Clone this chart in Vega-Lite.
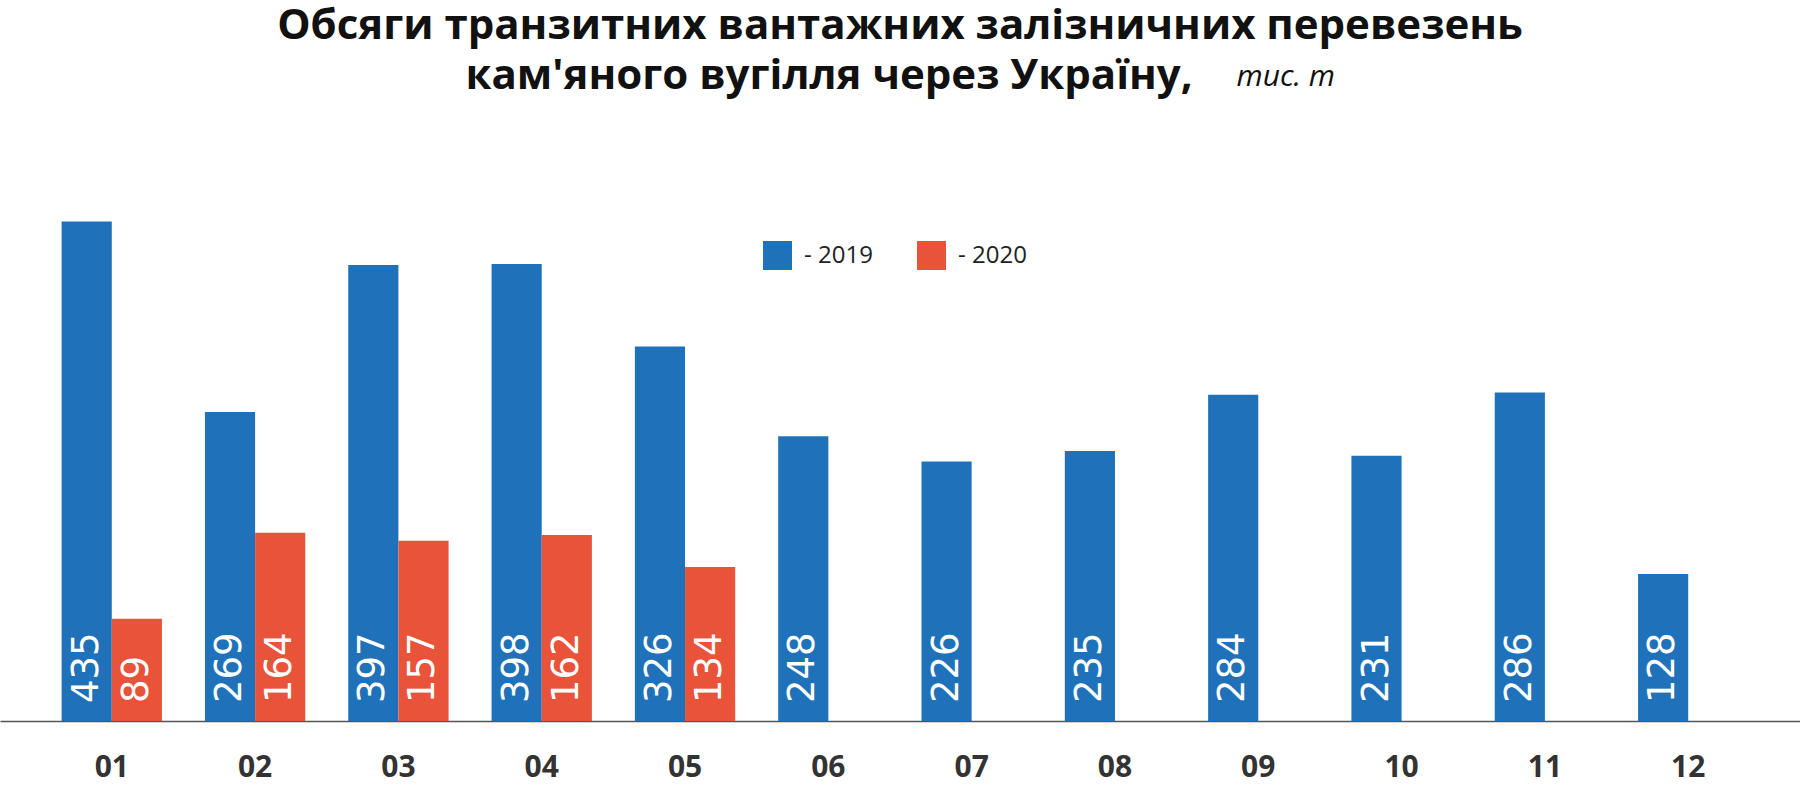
{
  "$schema": "https://vega.github.io/schema/vega-lite/v6.json",
  "width": 1800,
  "height": 611,
  "autosize": {"type": "none"},
  "padding": {"left": 0, "right": 0, "top": 110, "bottom": 64},
  "background": "white",
  "title": {
    "text": ["Обсяги транзитних вантажних залізничних перевезень", "кам'яного вугілля через Україну,\u00a0\u00a0\u00a0\u00a0\u00a0\u00a0\u00a0\u00a0\u00a0\u00a0\u00a0\u00a0\u00a0\u200b"],
    "subtitle": "\u200b\u00a0\u00a0\u00a0\u00a0\u00a0\u00a0\u00a0\u00a0\u00a0\u00a0\u00a0\u00a0\u00a0\u00a0\u00a0\u00a0\u00a0\u00a0\u00a0\u00a0\u00a0\u00a0\u00a0\u00a0\u00a0\u00a0\u00a0\u00a0\u00a0\u00a0\u00a0\u00a0\u00a0\u00a0\u00a0\u00a0\u00a0\u00a0\u00a0\u00a0\u00a0\u00a0\u00a0\u00a0\u00a0\u00a0\u00a0\u00a0\u00a0\u00a0\u00a0\u00a0\u00a0\u00a0\u00a0\u00a0\u00a0\u00a0\u00a0\u00a0\u00a0\u00a0\u00a0\u00a0\u00a0\u00a0\u00a0\u00a0\u00a0\u00a0\u00a0\u00a0\u00a0\u00a0\u00a0\u00a0\u00a0\u00a0\u00a0\u00a0\u00a0\u00a0\u00a0\u00a0\u00a0\u00a0\u00a0\u00a0\u00a0\u00a0\u00a0\u00a0\u00a0\u00a0\u00a0\u00a0\u00a0\u00a0\u00a0тис. т",
    "anchor": "middle",
    "frame": "group",
    "font": "Open Sans",
    "fontSize": 42,
    "fontWeight": "bold",
    "color": "#111111",
    "lineHeight": 50,
    "subtitleFont": "Open Sans",
    "subtitleFontSize": 30,
    "subtitleFontStyle": "italic",
    "subtitleColor": "#111111",
    "subtitlePadding": -36,
    "offset": 12
  },
  "data": {
    "values": [
      {"month": "01", "year": "2019", "value": 435},
      {"month": "02", "year": "2019", "value": 269},
      {"month": "03", "year": "2019", "value": 397},
      {"month": "04", "year": "2019", "value": 398},
      {"month": "05", "year": "2019", "value": 326},
      {"month": "06", "year": "2019", "value": 248},
      {"month": "07", "year": "2019", "value": 226},
      {"month": "08", "year": "2019", "value": 235},
      {"month": "09", "year": "2019", "value": 284},
      {"month": "10", "year": "2019", "value": 231},
      {"month": "11", "year": "2019", "value": 286},
      {"month": "12", "year": "2019", "value": 128},
      {"month": "01", "year": "2020", "value": 89},
      {"month": "02", "year": "2020", "value": 164},
      {"month": "03", "year": "2020", "value": 157},
      {"month": "04", "year": "2020", "value": 162},
      {"month": "05", "year": "2020", "value": 134}
    ]
  },
  "encoding": {
    "x": {
      "field": "month",
      "type": "nominal",
      "scale": {"paddingInner": 0.3, "paddingOuter": 0.43},
      "axis": {
        "title": null,
        "labelAngle": 0,
        "domain": true,
        "domainColor": "#555555",
        "domainWidth": 1.5,
        "ticks": false,
        "labelFont": "Open Sans",
        "labelFontSize": 30,
        "labelFontWeight": "bold",
        "labelColor": "#333333",
        "labelPadding": 31
      }
    },
    "xOffset": {
      "field": "year",
      "type": "nominal",
      "scale": {"domain": ["2019", "2020"], "paddingInner": 0, "paddingOuter": 0}
    }
  },
  "layer": [
    {
      "mark": {"type": "bar"},
      "encoding": {
        "y": {"field": "value", "type": "quantitative", "scale": {"domain": [0, 532], "nice": false, "zero": true}, "axis": null},
        "color": {
          "field": "year",
          "type": "nominal",
          "scale": {"domain": ["2019", "2020"], "range": ["#1f72b9", "#e8533a"]},
          "legend": {
            "title": null,
            "orient": "none",
            "legendX": 763,
            "legendY": 131,
            "direction": "horizontal",
            "symbolType": "square",
            "symbolSize": 841,
            "symbolStrokeWidth": 0,
            "symbolOpacity": 1,
            "labelFont": "Open Sans",
            "labelFontSize": 24,
            "labelColor": "#222222",
            "labelOffset": 12,
            "columnPadding": 44,
            "padding": 0,
            "labelExpr": "'- ' + datum.label"
          }
        }
      }
    },
    {
      "mark": {"type": "text", "angle": 270, "align": "left", "baseline": "middle", "dx": 18, "color": "white", "font": "DejaVu Sans", "fontSize": 37},
      "encoding": {
        "y": {"datum": 0, "type": "quantitative"},
        "text": {"field": "value", "type": "quantitative"}
      }
    }
  ],
  "config": {
    "view": {"stroke": null}
  }
}
